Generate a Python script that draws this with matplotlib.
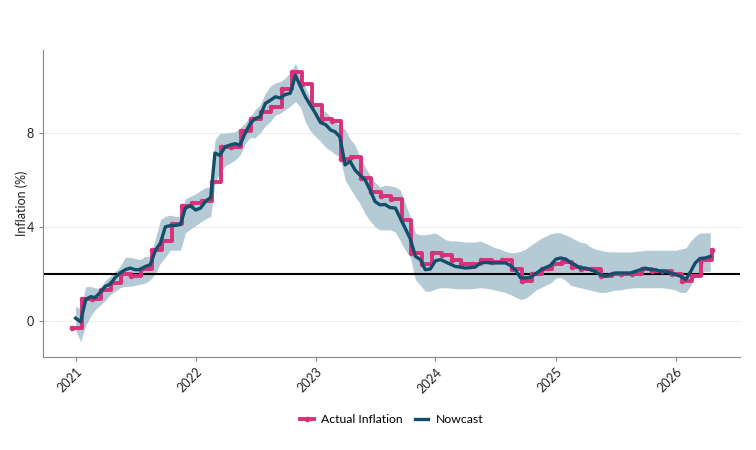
import numpy as np
import pandas as pd
import matplotlib.pyplot as plt
import matplotlib.dates as mdates

plt.rcParams['font.family'] = ['Lato', 'DejaVu Sans']

# actual inflation, monthly (Dec 2020 .. Apr 2026)
actual_vals = [-0.3,
               0.9, 0.9, 1.3, 1.6, 2.0, 1.9, 2.2, 3.0, 3.4, 4.1, 4.9, 5.0,
               5.1, 5.9, 7.4, 7.4, 8.1, 8.6, 8.9, 9.1, 9.9, 10.6, 10.1, 9.2,
               8.6, 8.5, 6.9, 7.0, 6.1, 5.5, 5.3, 5.2, 4.3, 2.9, 2.4, 2.9,
               2.8, 2.6, 2.4, 2.4, 2.6, 2.5, 2.6, 2.2, 1.7, 2.0, 2.2, 2.4,
               2.5, 2.3, 2.2, 2.2, 1.9, 2.0, 2.0, 2.0, 2.2, 2.1, 2.1, 2.0,
               1.7, 1.9, 2.6, 3.0]
actual_dates = pd.date_range('2020-12-01', periods=len(actual_vals), freq='MS') + pd.Timedelta(days=19)

# nowcast, twice a month (1st and 16th), Jan 2021 .. Apr 2026
nowcast = [0.1, -0.05, 0.9, 1.02, 0.98, 1.19, 1.46, 1.55, 1.83, 2.03, 2.17, 2.24,
           2.17, 2.17, 2.31, 2.38, 3.0, 3.3, 4.0, 4.05, 4.06, 4.1, 4.8, 4.9,
           4.72, 4.8, 5.1, 5.25, 7.15, 7.05, 7.42, 7.49, 7.55, 7.49, 8.0, 8.4,
           8.62, 8.7, 9.26, 9.4, 9.55, 9.5, 9.65, 9.7, 10.47, 10.0, 9.55, 9.2,
           8.84, 8.45, 8.36, 8.13, 8.06, 7.84, 6.64, 6.8, 6.43, 6.21, 6.0, 5.57,
           5.08, 4.94, 4.95, 4.82, 4.8, 4.37, 3.94, 3.5, 2.74, 2.6, 2.17, 2.2,
           2.55, 2.6, 2.5, 2.4, 2.31, 2.28, 2.24, 2.26, 2.28, 2.45, 2.48, 2.46,
           2.46, 2.46, 2.46, 2.35, 2.15, 1.82, 1.82, 1.85, 2.0, 2.15, 2.26, 2.35,
           2.62, 2.67, 2.62, 2.46, 2.38, 2.24, 2.24, 2.17, 2.1, 1.96, 1.89, 1.96,
           2.03, 2.03, 2.03, 2.03, 2.1, 2.17, 2.24, 2.17, 2.17, 2.1, 2.1, 2.03,
           1.96, 1.89, 1.75, 2.1, 2.45, 2.65, 2.67, 2.74]

band_hi = [0.6, 0.5, 1.45, 1.45, 1.4, 1.35, 1.7, 1.9, 2.1, 2.3, 2.7, 2.7,
           2.65, 2.6, 2.74, 2.74, 3.5, 4.3, 4.45, 4.5, 4.45, 4.45, 5.2, 5.3,
           5.4, 5.55, 5.68, 5.72, 7.7, 8.0, 8.0, 8.03, 8.06, 8.2, 8.45, 8.7,
           9.0, 9.2, 9.7, 10.0, 10.15, 10.2, 10.35, 10.6, 10.97, 10.47, 9.97, 9.5,
           9.25, 9.05, 8.9, 8.7, 8.5, 8.3, 8.15, 7.75, 7.49, 7.0, 6.55, 6.2,
           5.9, 5.7, 5.78, 5.75, 5.7, 5.57, 5.0, 4.44, 3.73, 3.66, 3.66, 3.7,
           3.74, 3.6, 3.45, 3.4, 3.4, 3.38, 3.35, 3.35, 3.35, 3.4, 3.3, 3.2,
           3.1, 3.05, 2.95, 2.9, 2.9, 2.95, 3.05, 3.2, 3.35, 3.5, 3.6, 3.7,
           3.75, 3.74, 3.65, 3.55, 3.45, 3.35, 3.3, 3.15, 3.05, 3.0, 2.95, 2.93,
           2.93, 2.93, 2.93, 2.93, 2.95, 2.97, 3.0, 3.0, 3.0, 3.0, 3.0, 3.0,
           3.0, 3.05, 3.1, 3.4, 3.6, 3.74, 3.74, 3.74]

band_lo = [-0.4, -0.9, -0.2, 0.2, 0.45, 0.65, 0.85, 1.1, 1.25, 1.4, 1.46, 1.46,
           1.5, 1.55, 1.6, 1.74, 2.0, 2.46, 2.7, 3.0, 3.0, 3.0, 3.74, 3.9,
           4.05, 4.2, 4.35, 4.44, 5.87, 6.3, 6.6, 6.72, 6.85, 7.06, 7.55, 7.8,
           7.8, 8.0, 8.3, 8.5, 8.77, 8.85, 9.0, 9.15, 9.35, 9.1, 8.48, 8.1,
           7.85, 7.65, 7.4, 7.25, 7.1, 7.0, 6.0, 5.65, 5.3, 5.0, 4.55, 4.25,
           4.0, 3.87, 3.87, 3.87, 3.78, 3.4, 3.0, 2.74, 1.74, 1.5, 1.25, 1.25,
           1.35, 1.4, 1.4, 1.38, 1.36, 1.35, 1.35, 1.35, 1.38, 1.4, 1.38, 1.35,
           1.3, 1.25, 1.2, 1.1, 1.0, 0.9, 0.95, 1.1, 1.3, 1.4, 1.5, 1.6,
           1.8, 1.85, 1.7, 1.5, 1.45, 1.4, 1.35, 1.3, 1.25, 1.2, 1.2, 1.25,
           1.3, 1.3, 1.35, 1.38, 1.4, 1.4, 1.4, 1.4, 1.4, 1.4, 1.38, 1.35,
           1.3, 1.2, 1.2, 1.5, 1.95, 2.05, 2.1, 2.1]

months = pd.date_range('2021-01-01', periods=len(nowcast) // 2, freq='MS')
nowcast_dates = []
for m in months:
    nowcast_dates.append(m)
    nowcast_dates.append(m + pd.Timedelta(days=15))

target = 2.0

fig = plt.figure(figsize=(7.56, 4.5), dpi=100)
ax = fig.add_axes([0.057, 0.207, 0.922, 0.682])

ax.fill_between(nowcast_dates, band_lo, band_hi, color='#b4cbd5', lw=0, zorder=1)
ax.axhline(target, color='black', lw=1.5, zorder=2)
ax.plot(actual_dates, actual_vals, drawstyle='steps-post', color='#d9307a', lw=2.8,
        marker='o', markersize=3, label='Actual Inflation', zorder=3)
ax.plot(nowcast_dates, nowcast, color='#114f6b', lw=2.4, label='Nowcast', zorder=4)

ax.set_ylim(-1.55, 11.55)
ax.set_xlim(pd.Timestamp('2020-09-24'), pd.Timestamp('2026-07-16'))
ax.set_yticks([0, 4, 8])
ax.grid(axis='y', color='#eeeeee', lw=0.8)
ax.set_axisbelow(True)
ax.xaxis.set_major_locator(mdates.YearLocator())
ax.xaxis.set_major_formatter(mdates.DateFormatter('%Y'))
plt.setp(ax.get_xticklabels(), rotation=45, ha='right', rotation_mode='anchor')
ax.tick_params(labelsize=9, length=3)
ax.tick_params(axis='both', colors='#888888', labelcolor='#222222')
for s in ['top', 'right']:
    ax.spines[s].set_visible(False)
for s in ['left', 'bottom']:
    ax.spines[s].set_color('#888888')
ax.set_ylabel('Inflation (%)', fontsize=9, color='#222222')
ax.yaxis.set_label_coords(-0.022, 0.5)

ax.legend(loc='center', bbox_to_anchor=(0.5, -0.205), ncol=2, frameon=False,
          fontsize=8.8, handlelength=1.1, columnspacing=1.0, handletextpad=0.6)

plt.savefig('out.png', dpi=100)
